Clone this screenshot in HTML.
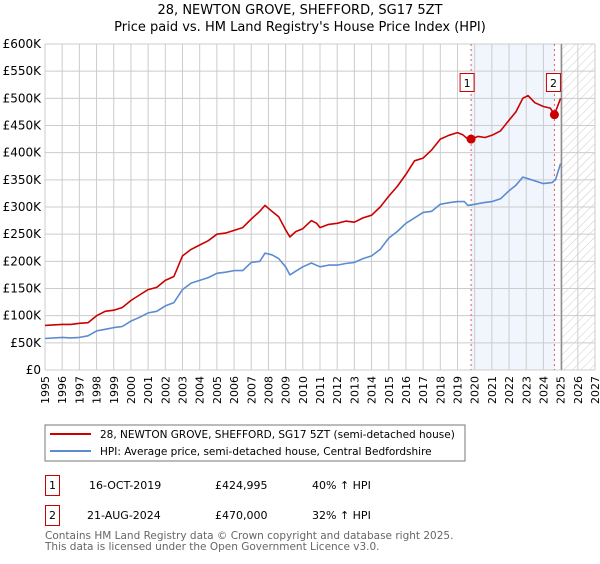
<!DOCTYPE html>
<html><head><meta charset="utf-8"><style>
body{margin:0;background:#fff;font-family:"DejaVu Sans","Liberation Sans",sans-serif;}
svg text{font-family:"DejaVu Sans","Liberation Sans",sans-serif;}
</style></head><body>
<svg width="600" height="560" viewBox="0 0 600 560" xmlns="http://www.w3.org/2000/svg">
<defs><pattern id="hatch" width="6" height="6" patternUnits="userSpaceOnUse" patternTransform="rotate(45)"><line x1="0" y1="0" x2="0" y2="6" stroke="#ccc" stroke-width="1"/></pattern></defs>
<text x="300" y="14" font-size="13" text-anchor="middle">28, NEWTON GROVE, SHEFFORD, SG17 5ZT</text>
<text x="300" y="31" font-size="13" text-anchor="middle">Price paid vs. HM Land Registry's House Price Index (HPI)</text>
<g id="plot"></g>
<rect x="45" y="425" width="420" height="36" fill="none" stroke="#777"/>
<line x1="50" y1="434" x2="91" y2="434" stroke="#cc0000" stroke-width="2"/>
<text x="100" y="438" font-size="10.5">28, NEWTON GROVE, SHEFFORD, SG17 5ZT (semi-detached house)</text>
<line x1="50" y1="451" x2="91" y2="451" stroke="#5b8bd0" stroke-width="2"/>
<text x="100" y="455" font-size="10.5">HPI: Average price, semi-detached house, Central Bedfordshire</text>
<g font-size="11">
<rect x="45.5" y="475.5" width="14" height="20" fill="none" stroke="#cc0000"/>
<text x="52.5" y="489" text-anchor="middle">1</text>
<text x="89" y="489">16-OCT-2019</text><text x="215" y="489">£424,995</text><text x="312" y="489">40% ↑ HPI</text></g>
<g font-size="11">
<rect x="45.5" y="505.5" width="14" height="20" fill="none" stroke="#cc0000"/>
<text x="52.5" y="519" text-anchor="middle">2</text>
<text x="87" y="519">21-AUG-2024</text><text x="215" y="519">£470,000</text><text x="312" y="519">32% ↑ HPI</text></g>
<text x="45" y="539" font-size="10.5" fill="#666">Contains HM Land Registry data © Crown copyright and database right 2025.</text>
<text x="45" y="550" font-size="10.5" fill="#666">This data is licensed under the Open Government Licence v3.0.</text>
</svg>
<script>
const yTicks=[0,50,100,150,200,250,300,350,400,450,500,550,600];
const yLabels=["£0","£50K","£100K","£150K","£200K","£250K","£300K","£350K","£400K","£450K","£500K","£550K","£600K"];
const xYears=[1995,1996,1997,1998,1999,2000,2001,2002,2003,2004,2005,2006,2007,2008,2009,2010,2011,2012,2013,2014,2015,2016,2017,2018,2019,2020,2021,2022,2023,2024,2025,2026,2027];
const redT=[1995,1996,1996.5,1997,1997.5,1998,1998.5,1999,1999.5,2000,2000.5,2001,2001.5,2002,2002.5,2003,2003.5,2004,2004.5,2005,2005.5,2006,2006.5,2007,2007.5,2007.8,2008.2,2008.6,2009,2009.25,2009.6,2010,2010.5,2010.8,2011,2011.5,2012,2012.5,2013,2013.5,2014,2014.5,2015,2015.5,2016,2016.5,2017,2017.5,2018,2018.5,2019,2019.3,2019.6,2019.79,2020.2,2020.6,2021,2021.5,2022,2022.4,2022.8,2023.1,2023.5,2024,2024.4,2024.64,2025];
const redV=[82,84,84,86,87,100,108,110,115,128,138,148,152,165,172,210,222,230,238,250,252,257,262,278,292,303,292,282,258,245,255,260,275,270,262,268,270,274,272,280,285,300,320,338,360,385,390,405,425,432,437,433,425,425,430,428,432,440,460,475,500,505,492,485,482,470,500];
const blueT=[1995,1996,1996.5,1997,1997.5,1998,1998.5,1999,1999.5,2000,2000.5,2001,2001.5,2002,2002.5,2003,2003.5,2004,2004.5,2005,2005.5,2006,2006.5,2007,2007.5,2007.8,2008.2,2008.6,2009,2009.25,2009.6,2010,2010.5,2011,2011.5,2012,2012.5,2013,2013.5,2014,2014.5,2015,2015.5,2016,2016.5,2017,2017.5,2018,2018.5,2019,2019.4,2019.6,2020,2020.5,2021,2021.5,2022,2022.4,2022.8,2023.1,2023.5,2024,2024.5,2024.7,2025];
const blueV=[58,60,59,60,63,72,75,78,80,90,97,105,108,118,124,148,160,165,170,178,180,183,183,198,200,215,212,205,190,175,182,190,197,190,193,193,196,198,205,210,222,243,255,270,280,290,292,305,308,310,310,303,305,308,310,315,330,340,355,352,348,343,345,350,380];
const sales=[[2019.79,424.995],[2024.64,470]];
const NS="http://www.w3.org/2000/svg";
const X0=45,X1=595,Y0=370,Y1=44;
const xs=t=>X0+(t-1995)/32*(X1-X0);
const ys=v=>Y0-v/600*(Y0-Y1);
const g=document.getElementById('plot');
function mk(tag,at){const e=document.createElementNS(NS,tag);for(const k in at)e.setAttribute(k,at[k]);g.appendChild(e);return e;}
let e=mk('rect',{x:xs(sales[0][0]),y:Y1,width:xs(sales[1][0])-xs(sales[0][0]),height:Y0-Y1,fill:'#eef3fc',opacity:0.8});


e=mk('rect',{x:xs(2025.06),y:Y1,width:X1-xs(2025.06),height:Y0-Y1,fill:'url(#hatch)'});


yTicks.forEach((v,i)=>{
 e=mk('line',{x1:X0,x2:X1,y1:ys(v),y2:ys(v),stroke:'#ccc'});
 
 
 e=mk('text',{x:41,y:ys(v)+4,'font-size':12,'text-anchor':'end'});e.textContent=yLabels[i];
 
 
});
xYears.forEach(yr=>{
 e=mk('line',{x1:xs(yr),x2:xs(yr),y1:Y1,y2:Y0,stroke:'#ccc'});
 
 
 e=mk('text',{x:0,y:0,'font-size':11,'text-anchor':'end',transform:`translate(${xs(yr)+4},376) rotate(-90)`});e.textContent=yr;
 
 
});
e=mk('line',{x1:xs(2025.06),x2:xs(2025.06),y1:Y1,y2:Y0,stroke:'#888','stroke-width':1.2});


sales.forEach((s,i)=>{
 e=mk('line',{x1:xs(s[0]),x2:xs(s[0]),y1:Y1,y2:Y0,stroke:'#e06060','stroke-dasharray':'2,3'});
 
 
});
function path(T,V,col,name){const d=T.map((t,i)=>(i?'L':'M')+xs(t).toFixed(1)+','+ys(V[i]).toFixed(1)).join('');
 e=mk('path',{d:d,fill:'none',stroke:col,'stroke-width':1.6,'stroke-linejoin':'round'});
 
 }
path(blueT,blueV,'#5b8bd0','hpi-line');
path(redT,redV,'#cc0000','property-line');
sales.forEach((s,i)=>{
 e=mk('circle',{cx:xs(s[0]),cy:ys(s[1]),r:4.5,fill:'#cc0000'});
 
 
 e=mk('rect',{x:xs(s[0])-(i?8:11),y:73.5,width:14,height:18,fill:'#fff',stroke:'#cc0000'});
 
 
 e=mk('text',{x:xs(s[0])-(i?1:4),y:87,'font-size':11,'text-anchor':'middle'});e.textContent=String(i+1);
 
 
});
</script>
</body></html>
